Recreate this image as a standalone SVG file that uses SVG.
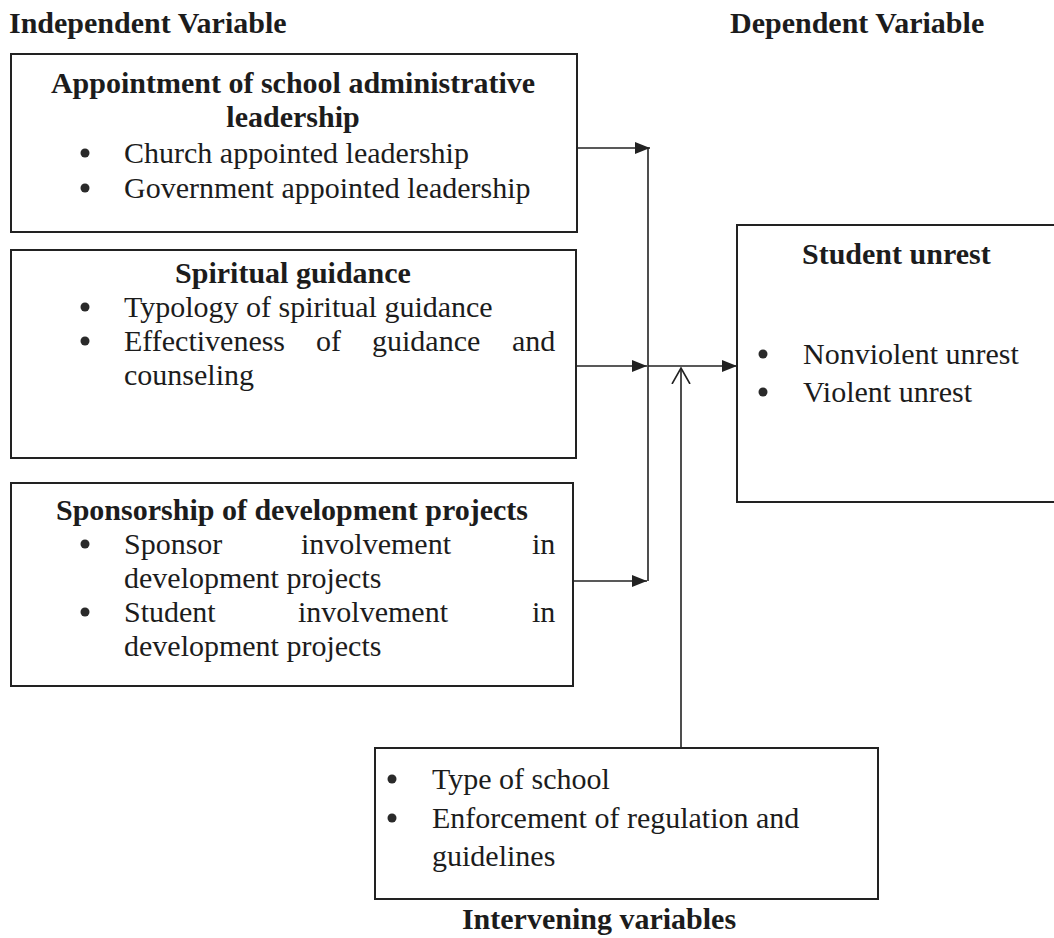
<svg xmlns="http://www.w3.org/2000/svg" width="1054" height="938" viewBox="0 0 1054 938">
<style>
text{font-family:"Liberation Serif","Times New Roman",serif;font-size:30px;fill:#1c1c1c}
.b{font-weight:bold}
.c{text-anchor:middle}
.box{fill:#fff;stroke:#222;stroke-width:2}
.ln{fill:none;stroke:#222;stroke-width:1.6}
.dot{fill:#2a2a2a}
</style>
<defs>
<marker id="ah" viewBox="0 0 15 12" refX="15" refY="6" markerWidth="15" markerHeight="12" markerUnits="userSpaceOnUse" orient="auto">
<path d="M0,0 L15,6 L0,12 Z" fill="#222"/>
</marker>
<marker id="oh" viewBox="0 0 17 20" refX="16" refY="10" markerWidth="17" markerHeight="20" markerUnits="userSpaceOnUse" orient="auto">
<path d="M0,1 L16,10 L0,19" fill="none" stroke="#222" stroke-width="1.6"/>
</marker>
</defs>
<rect width="1054" height="938" fill="#fff"/>
<text class="b" x="9" y="33">Independent Variable</text>
<text class="b" x="730" y="33">Dependent Variable</text>

<g id="connectors">
<line class="ln" x1="577" y1="148" x2="650" y2="148" marker-end="url(#ah)"/>
<line class="ln" x1="648" y1="148" x2="648" y2="581"/>
<line class="ln" x1="577" y1="366" x2="647" y2="366" marker-end="url(#ah)"/>
<line class="ln" x1="648" y1="366" x2="737" y2="366" marker-end="url(#ah)"/>
<line class="ln" x1="573" y1="581" x2="647" y2="581" marker-end="url(#ah)"/>
<line class="ln" x1="681" y1="748" x2="681" y2="368" marker-end="url(#oh)"/>
</g>

<g id="node-appointment">
<rect class="box" x="11" y="54" width="566" height="178"/>
<text class="b c" x="293" y="93">Appointment of school administrative</text>
<text class="b c" x="293" y="127">leadership</text>
<circle class="dot" cx="85" cy="153" r="4.5"/>
<text x="124" y="163">Church appointed leadership</text>
<circle class="dot" cx="85" cy="188" r="4.5"/>
<text x="124" y="198">Government appointed leadership</text>
</g>

<g id="node-spiritual">
<rect class="box" x="11" y="250" width="565" height="208"/>
<text class="b c" x="293" y="283">Spiritual guidance</text>
<circle class="dot" cx="85" cy="307" r="4.5"/>
<text x="124" y="317">Typology of spiritual guidance</text>
<circle class="dot" cx="85" cy="341" r="4.5"/>
<text x="124" y="351">Effectiveness</text>
<text x="316" y="351">of</text>
<text x="372" y="351">guidance</text>
<text x="512" y="351">and</text>
<text x="124" y="385">counseling</text>
</g>

<g id="node-sponsorship">
<rect class="box" x="11" y="483" width="562" height="203"/>
<text class="b c" x="292" y="520">Sponsorship of development projects</text>
<circle class="dot" cx="85" cy="544" r="4.5"/>
<text x="124" y="554">Sponsor</text>
<text x="301" y="554">involvement</text>
<text x="532" y="554">in</text>
<text x="124" y="588">development projects</text>
<circle class="dot" cx="85" cy="612" r="4.5"/>
<text x="124" y="622">Student</text>
<text x="298" y="622">involvement</text>
<text x="532" y="622">in</text>
<text x="124" y="656">development projects</text>
</g>

<g id="node-student-unrest">
<rect class="box" x="737" y="225" width="330" height="277"/>
<text class="b" x="802" y="264">Student unrest</text>
<circle class="dot" cx="763" cy="354" r="4.5"/>
<text x="803" y="364">Nonviolent unrest</text>
<circle class="dot" cx="763" cy="392" r="4.5"/>
<text x="803" y="402">Violent unrest</text>
</g>

<g id="node-intervening">
<rect class="box" x="375" y="748" width="503" height="151"/>
<circle class="dot" cx="392" cy="779" r="4.5"/>
<text x="432" y="789">Type of school</text>
<circle class="dot" cx="392" cy="818" r="4.5"/>
<text x="432" y="828">Enforcement of regulation and</text>
<text x="432" y="866">guidelines</text>
<text class="b c" x="599" y="929">Intervening variables</text>
</g>
</svg>
